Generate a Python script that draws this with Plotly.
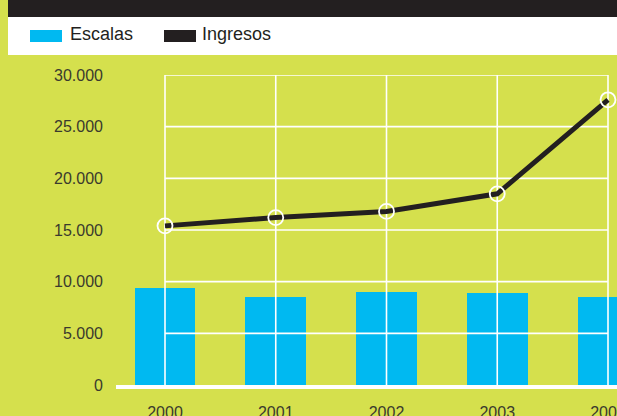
import plotly.graph_objects as go

# ---- data ----
years = [2000, 2001, 2002, 2003, 2004]
escalas = [9350, 8490, 8970, 8870, 8490]
ingresos = [15400, 16200, 16800, 18500, 27600]
y_ticks = [0, 5000, 10000, 15000, 20000, 25000, 30000]
series_names = ["Escalas", "Ingresos"]

# ---- style ----
W, H = 617, 416
BG = "#d5e04d"
BLUE = "#00b9f1"
DARK = "#231f20"
TXT = "#3a3a2e"

def px_x(p):
    return p / W

def px_y(p):
    return 1 - p / H

fig = go.Figure()

fig.add_trace(go.Bar(x=years, y=escalas, marker=dict(color=BLUE, line=dict(width=0)),
                     width=0.55, name=series_names[0], showlegend=False, hoverinfo="skip"))

# grid drawn between bars and line (spans first to last year only)
gx, gy = [], []
for t in y_ticks[1:]:
    gx += [years[0], years[-1], None]
    gy += [t, t, None]
for yr in years:
    gx += [yr, yr, None]
    gy += [y_ticks[0], y_ticks[-1], None]
fig.add_trace(go.Scatter(x=gx, y=gy, mode="lines", line=dict(color="white", width=1.6),
                         showlegend=False, hoverinfo="skip", cliponaxis=False))

fig.add_trace(go.Scatter(x=years, y=ingresos, mode="lines", line=dict(color=DARK, width=5),
                         name=series_names[1], showlegend=False, hoverinfo="skip", cliponaxis=False))
fig.add_trace(go.Scatter(x=years, y=ingresos, mode="markers",
                         marker=dict(symbol="circle-open", size=15, color="white", line=dict(width=1.8, color="white")),
                         showlegend=False, hoverinfo="skip", cliponaxis=False))

# geometry
x_left_px, x2000_px, x2004_px, x_right_px = 116, 165, 608, 617
ppy = (x2004_px - x2000_px) / (years[-1] - years[0])
x_range = [years[0] - (x2000_px - x_left_px) / ppy, years[-1] + (x_right_px - x2004_px) / ppy]
y_top_px, y_bot_px = 75, 385

fig.update_layout(
    template="none",
    width=W, height=H, margin=dict(l=0, r=0, t=0, b=0, autoexpand=False),
    paper_bgcolor=BG, plot_bgcolor=BG, separators=",.",
    font=dict(family="Liberation Sans, Arial, sans-serif", color=TXT, size=16),
    bargap=0,
    xaxis=dict(domain=[px_x(x_left_px), 1], range=x_range, tickvals=years, ticktext=[str(y) for y in years],
               showgrid=False, zeroline=False, showline=True, linecolor="white", linewidth=4,
               automargin=False, ticks="", ticklabelstandoff=10, ticklabeloverflow="allow",
               tickfont=dict(size=16, color=TXT)),
    yaxis=dict(domain=[px_y(y_bot_px), px_y(y_top_px)], range=[y_ticks[0], y_ticks[-1]], tickvals=y_ticks,
               tickformat=",d", showgrid=False, zeroline=False, showline=False, automargin=False,
               ticks="", ticklabelstandoff=12, tickfont=dict(size=16, color=TXT)),
    showlegend=False,
)

shapes = [
    dict(type="rect", xref="paper", yref="paper", x0=px_x(8), x1=1, y0=px_y(17), y1=1,
         fillcolor=DARK, line=dict(width=0), layer="above"),
    dict(type="rect", xref="paper", yref="paper", x0=px_x(8), x1=1, y0=px_y(55), y1=px_y(17),
         fillcolor="white", line=dict(width=0), layer="above"),
    dict(type="rect", xref="paper", yref="paper", x0=px_x(30), x1=px_x(62), y0=px_y(42), y1=px_y(30),
         fillcolor=BLUE, line=dict(width=0), layer="above"),
    dict(type="rect", xref="paper", yref="paper", x0=px_x(164), x1=px_x(196), y0=px_y(42), y1=px_y(30),
         fillcolor=DARK, line=dict(width=0), layer="above"),
]
fig.update_layout(shapes=shapes)

legend_font = dict(family="Liberation Sans, Arial, sans-serif", size=18, color=DARK)
fig.add_annotation(xref="paper", yref="paper", x=px_x(68), y=px_y(34), text=series_names[0],
                   showarrow=False, xanchor="left", yanchor="middle", font=legend_font)
fig.add_annotation(xref="paper", yref="paper", x=px_x(200), y=px_y(34), text=series_names[1],
                   showarrow=False, xanchor="left", yanchor="middle", font=legend_font)

fig.write_html("out.html", config={"displayModeBar": False},
               post_script="document.body.style.margin='0';document.body.style.padding='0';")
